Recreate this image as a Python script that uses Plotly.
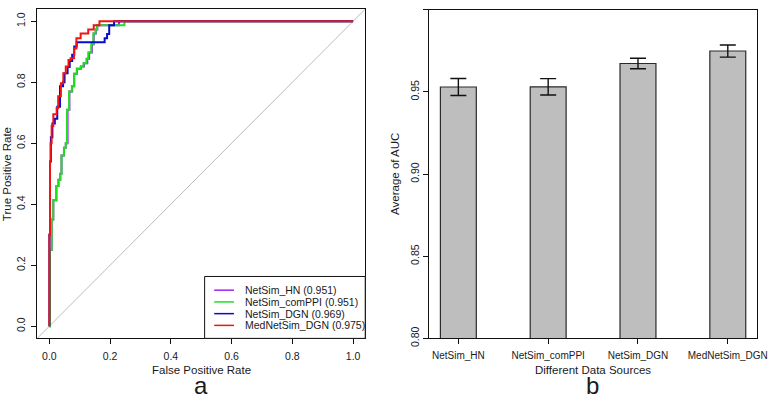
import plotly.graph_objects as go

# ---------------- Panel a: ROC curves ----------------
series_names = ["NetSim_HN", "NetSim_comPPI", "NetSim_DGN", "MedNetSim_DGN"]
series_auc = ["0.951", "0.951", "0.969", "0.975"]
series_colors = ["#a020f0", "#1fe01f", "#0a0ad0", "#f01414"]

hn_fpr = [0, 0.002, 0.0075, 0.013, 0.023, 0.03, 0.036, 0.04, 0.048, 0.054, 0.060, 0.066,
          0.075, 0.082, 0.091, 0.104, 0.114, 0.125, 0.131, 0.140, 0.146, 0.153, 0.158, 0.229, 1.0]
hn_tpr = [0, 0.25, 0.35, 0.413, 0.46, 0.48, 0.50, 0.56, 0.585, 0.60, 0.71, 0.77,
          0.787, 0.828, 0.844, 0.852, 0.862, 0.877, 0.898, 0.925, 0.96, 0.973, 0.987, 1.0, 1.0]

ppi_fpr = [0, 0.002, 0.0075, 0.013, 0.023, 0.03, 0.036, 0.04, 0.048, 0.054, 0.058, 0.065,
           0.074, 0.081, 0.09, 0.103, 0.112, 0.122, 0.128, 0.138, 0.145, 0.152, 0.157, 0.247, 1.0]
ppi_tpr = [0, 0.25, 0.35, 0.413, 0.46, 0.48, 0.50, 0.56, 0.585, 0.60, 0.71, 0.77,
           0.787, 0.828, 0.844, 0.852, 0.862, 0.877, 0.898, 0.925, 0.96, 0.973, 0.987, 1.0, 1.0]

dgn_fpr = [0, 0, 0.002, 0.005, 0.010, 0.018, 0.026, 0.035, 0.045, 0.050, 0.060, 0.067,
           0.075, 0.082, 0.090, 0.182, 0.190, 0.197, 0.213, 1.0]
dgn_tpr = [0, 0.30, 0.54, 0.62, 0.665, 0.68, 0.72, 0.787, 0.80, 0.83, 0.85, 0.87,
           0.89, 0.917, 0.931, 0.944, 0.958, 0.987, 1.0, 1.0]

med_fpr = [0, 0, 0.002, 0.004, 0.0075, 0.013, 0.024, 0.029, 0.038, 0.046, 0.054, 0.063,
           0.070, 0.081, 0.089, 0.103, 0.128, 0.146, 0.165, 1.0]
med_tpr = [0, 0.30, 0.54, 0.60, 0.657, 0.695, 0.716, 0.754, 0.797, 0.83, 0.852, 0.873,
           0.879, 0.911, 0.944, 0.96, 0.973, 0.987, 1.0, 1.0]

roc_fpr = [hn_fpr, ppi_fpr, dgn_fpr, med_fpr]
roc_tpr = [hn_tpr, ppi_tpr, dgn_tpr, med_tpr]

roc_ticks = [0.0, 0.2, 0.4, 0.6, 0.8, 1.0]
roc_range = [-0.04, 1.04]

# ---------------- Panel b: average AUC bars ----------------
bar_categories = ["NetSim_HN", "NetSim_comPPI", "NetSim_DGN", "MedNetSim_DGN"]
bar_values = [0.9530, 0.9531, 0.9673, 0.9749]
bar_errors = [0.0052, 0.0050, 0.0032, 0.0037]
bar_ticks = [0.80, 0.85, 0.90, 0.95, 1.00]

FONT = "Liberation Sans, Arial, sans-serif"
TXT = "#1a1a1a"
W, H = 778, 409

# pixel layout
a_l, a_r, a_t, a_b = 37.7, 370.0, 9.3, 346.0
b_l, b_r, b_t, b_b = 434.3, 767.3, 10.0, 346.0

fig = go.Figure()

# diagonal reference
fig.add_trace(go.Scatter(x=roc_range, y=roc_range, mode="lines",
                         line=dict(color="#bcbcbc", width=1),
                         xaxis="x", yaxis="y", showlegend=False, hoverinfo="skip"))

for name, fx, ty, col in zip(series_names, roc_fpr, roc_tpr, series_colors):
    fig.add_trace(go.Scatter(x=fx, y=ty, mode="lines", name=name,
                             line=dict(color=col, width=2, shape="hv"),
                             xaxis="x", yaxis="y", showlegend=False))

fig.add_trace(go.Bar(x=bar_categories, y=bar_values, width=0.4,
                     marker=dict(color="#bebebe", line=dict(color="#2a2a2a", width=1.2)),
                     error_y=dict(type="data", array=bar_errors, visible=True,
                                  color="#111111", thickness=1.4, width=8),
                     xaxis="x2", yaxis="y2", showlegend=False))

def axis_style(size):
    return dict(showline=True, mirror=True, linecolor="#111111", linewidth=1,
                ticks="outside", ticklen=5, tickcolor="#111111", tickwidth=1,
                showgrid=False, zeroline=False,
                tickfont=dict(family=FONT, size=size, color=TXT))

fig.update_layout(
    width=W, height=H,
    margin=dict(l=0, r=0, t=0, b=0),
    paper_bgcolor="white", plot_bgcolor="white",
    xaxis=dict(domain=[a_l / W, a_r / W], range=roc_range, tickvals=roc_ticks,
               tickformat=".1f", anchor="y", ticklabelstandoff=3, **axis_style(10.5)),
    yaxis=dict(domain=[1 - a_b / H, 1 - a_t / H], range=roc_range, tickvals=roc_ticks,
               tickformat=".1f", tickangle=-90, anchor="x", ticklabelstandoff=2,
               **axis_style(10.5)),
    xaxis2=dict(domain=[b_l / W, b_r / W], range=[-0.33, 3.33], type="category",
                anchor="y2", ticklabelstandoff=3, **axis_style(10)),
    yaxis2=dict(domain=[1 - b_b / H, 1 - b_t / H], range=[0.80, 1.00], tickvals=bar_ticks,
                tickformat=".2f", tickangle=-90, anchor="x2", **axis_style(10.5)),
)

ann = []
shapes = []
# axis titles
ann.append(dict(text="False Positive Rate", x=(a_l + a_r) / 2 / W, y=1 - 378 / H,
                xref="paper", yref="paper", showarrow=False, xanchor="center", yanchor="middle",
                font=dict(family=FONT, size=11.5, color=TXT)))
ann.append(dict(text="True Positive Rate", x=6.5 / W, y=1 - (a_t + a_b) / 2 / H,
                xref="paper", yref="paper", showarrow=False, xanchor="center", yanchor="middle",
                textangle=-90, font=dict(family=FONT, size=11.5, color=TXT)))
ann.append(dict(text="Different Data Sources", x=(b_l + b_r) / 2 / W, y=1 - 378 / H,
                xref="paper", yref="paper", showarrow=False, xanchor="center", yanchor="middle",
                font=dict(family=FONT, size=11.5, color=TXT)))
ann.append(dict(text="Average of AUC", x=400 / W, y=1 - (b_t + b_b) / 2 / H,
                xref="paper", yref="paper", showarrow=False, xanchor="center", yanchor="middle",
                textangle=-90, font=dict(family=FONT, size=11.5, color=TXT)))
# panel letters
ann.append(dict(text="a", x=204 / W, y=0, xref="paper", yref="paper",
                showarrow=False, xanchor="center", yanchor="bottom", borderpad=0,
                font=dict(family=FONT, size=24, color=TXT)))
ann.append(dict(text="b", x=600.5 / W, y=0, xref="paper", yref="paper",
                showarrow=False, xanchor="center", yanchor="bottom", borderpad=0,
                font=dict(family=FONT, size=24, color=TXT)))

# legend box (manual, R style)
leg_l, leg_t = 207.3, 282.7
shapes.append(dict(type="rect", xref="paper", yref="paper",
                   x0=leg_l / W, x1=a_r / W, y0=1 - a_b / H, y1=1 - leg_t / H,
                   fillcolor="white", line=dict(color="#111111", width=1), layer="above"))
row_y = [296.7, 308.7, 320.7, 332.7]
for name, auc, col, ry in zip(series_names, series_auc, series_colors, row_y):
    shapes.append(dict(type="line", xref="paper", yref="paper",
                       x0=217 / W, x1=237 / W, y0=1 - ry / H, y1=1 - ry / H,
                       line=dict(color=col, width=1.5), layer="above"))
    ann.append(dict(text=f"{name} ({auc})", x=246 / W, y=1 - ry / H,
                    xref="paper", yref="paper", showarrow=False,
                    xanchor="left", yanchor="middle",
                    font=dict(family=FONT, size=10.5, color=TXT)))

fig.update_layout(annotations=ann, shapes=shapes)
fig.write_html("out.html", config={"displayModeBar": False},
               post_script="document.body.style.margin='0px';")
